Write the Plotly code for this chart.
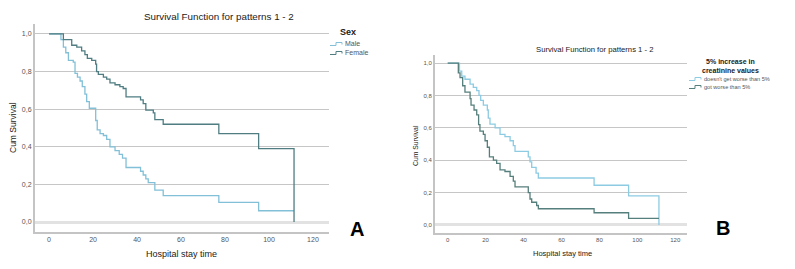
import plotly.graph_objects as go

# ---------------- Data ----------------
# Panel A: Sex
male_t = [0, 5.0, 5.4, 6.5, 7.6, 8.8, 11.0, 11.8, 12.9, 14.1, 15.1, 16.3, 17.1, 18.3, 21.2, 21.9,
          23.2, 24.7, 26.2, 27.7, 30.0, 31.9, 33.4, 35.0, 41.6, 42.8, 44.0, 45.1, 48.1, 51.9,
          77.2, 95.3, 111.4]
male_s = [1.0, 1.0, 0.97, 0.93, 0.90, 0.86, 0.85, 0.79, 0.77, 0.75, 0.72, 0.68, 0.64, 0.605, 0.54, 0.49,
          0.47, 0.46, 0.44, 0.40, 0.38, 0.36, 0.34, 0.29, 0.27, 0.25, 0.23, 0.21, 0.17, 0.14,
          0.105, 0.06, 0.06]

female_t = [0, 5.0, 6.5, 10.3, 12.6, 14.8, 16.3, 17.4, 19.4, 21.2, 21.6, 22.4, 24.7, 26.2, 27.7,
            30.0, 32.2, 33.7, 35.0, 41.6, 42.8, 44.0, 47.4, 48.1, 51.9, 77.2, 95.3, 111.4]
female_s = [1.0, 1.0, 0.97, 0.94, 0.93, 0.91, 0.89, 0.87, 0.86, 0.84, 0.80, 0.785, 0.77, 0.76, 0.74,
            0.73, 0.72, 0.71, 0.665, 0.65, 0.63, 0.595, 0.58, 0.545, 0.52, 0.47, 0.39, 0.0]

# Panel B: 5% increase in creatinine values
notworse_t = [0, 5.1, 6.2, 7.4, 9.1, 11.8, 13.5, 15.3, 16.5, 17.4, 18.8, 20.9, 21.4, 22.3, 25.0,
              27.6, 30.2, 32.9, 34.6, 35.5, 42.5, 43.4, 44.3, 46.6, 47.8, 52.2, 77.2, 95.4, 111.4]
notworse_s = [1.0, 1.0, 0.95, 0.92, 0.90, 0.87, 0.85, 0.83, 0.80, 0.77, 0.74, 0.71, 0.66, 0.623, 0.60,
              0.56, 0.545, 0.52, 0.49, 0.455, 0.42, 0.39, 0.355, 0.32, 0.29, 0.29, 0.245, 0.18, 0.0]

worse_t = [0, 5.1, 5.6, 6.5, 7.9, 9.1, 11.8, 12.3, 13.9, 15.3, 16.3, 17.0, 18.8, 19.7, 20.9, 22.0,
           24.1, 25.8, 27.6, 30.2, 32.9, 34.6, 35.5, 42.5, 43.4, 44.3, 46.9, 47.8, 52.2, 77.2,
           95.4, 111.4]
worse_s = [1.0, 1.0, 0.94, 0.91, 0.86, 0.82, 0.78, 0.74, 0.71, 0.68, 0.62, 0.58, 0.56, 0.52, 0.48, 0.42,
           0.40, 0.38, 0.34, 0.33, 0.30, 0.27, 0.235, 0.20, 0.16, 0.14, 0.12, 0.10, 0.10, 0.075,
           0.04, 0.04]

x_ticks = [0, 20, 40, 60, 80, 100, 120]
y_ticks = [0.0, 0.2, 0.4, 0.6, 0.8, 1.0]
y_tick_labels = ["0,0", "0,2", "0,4", "0,6", "0,8", "1,0"]

title_text = "Survival Function for patterns 1 - 2"
x_title = "Hospital stay time"
y_title = "Cum Survival"
legend_a_title = "Sex"
legend_a_names = ["Male", "Female"]
legend_b_title = "5% increase in<br>creatinine values"
legend_b_names = ["doesn't get worse than 5%", "got worse than 5%"]

# ---------------- Figure ----------------
W, H = 795, 269
COL_MALE = "#82c0d8"
COL_FEMALE = "#4f7d82"
COL_NOTWORSE = "#8ccbe2"
COL_WORSE = "#557f7c"
FONT = "Arial"


def px(x):
    return x / W


def py(y):
    return 1 - y / H


fig = go.Figure()
series = [
    (male_t, male_s, COL_MALE, legend_a_names[0], "x", "y"),
    (female_t, female_s, COL_FEMALE, legend_a_names[1], "x", "y"),
    (notworse_t, notworse_s, COL_NOTWORSE, legend_b_names[0], "x2", "y2"),
    (worse_t, worse_s, COL_WORSE, legend_b_names[1], "x2", "y2"),
]
for t, s, c, name, xa, ya in series:
    fig.add_trace(go.Scatter(x=t, y=s, mode="lines", line=dict(shape="hv", color=c, width=1.3),
                             name=name, xaxis=xa, yaxis=ya, showlegend=False, hoverinfo="x+y+name"))

axis_common = dict(showgrid=False, zeroline=False, showline=True, linecolor="#c4c4c4", linewidth=2,
                   ticks="", fixedrange=True)
yaxis_common = dict(showgrid=True, gridcolor="#c6c6c6", gridwidth=1, zeroline=True, zerolinecolor="#e2e2e2",
                    zerolinewidth=3, showline=True, linecolor="#c4c4c4", linewidth=2, ticks="",
                    fixedrange=True, tickvals=y_ticks, ticktext=y_tick_labels)

fig.update_layout(
    width=W, height=H, margin=dict(l=0, r=0, t=0, b=0),
    paper_bgcolor="white", plot_bgcolor="white", showlegend=False,
    xaxis=dict(domain=[px(35), px(329)], range=[-6.4, 127.3], tickvals=x_ticks, anchor="y",
               tickfont=dict(family=FONT, size=7, color="#555"), **axis_common),
    yaxis=dict(domain=[py(232), py(24)], range=[-0.053, 1.053], anchor="x",
               tickfont=dict(family=FONT, size=7, color="#555"), **yaxis_common),
    xaxis2=dict(domain=[px(435), px(687)], range=[-6.7, 126.2], tickvals=x_ticks, anchor="y2",
                tickfont=dict(family=FONT, size=6, color="#555"), **axis_common),
    yaxis2=dict(domain=[py(233), py(55)], range=[-0.05, 1.05], anchor="x2",
                tickfont=dict(family=FONT, size=6, color="#555"), **yaxis_common),
)

annotations = [
    dict(text=title_text, x=px(219), y=py(17), font=dict(family=FONT, size=9.8, color="#1a1a1a")),
    dict(text=title_text, x=px(595), y=py(49), font=dict(family=FONT, size=7.7, color="#1a1a1a")),
    dict(text=x_title, x=px(181), y=py(254), font=dict(family=FONT, size=9, color="#1a1a1a")),
    dict(text=x_title, x=px(562), y=py(253), font=dict(family=FONT, size=7.5, color="#1a1a1a")),
    dict(text=y_title, x=px(13), y=py(128), textangle=-90, font=dict(family=FONT, size=8.5, color="#1a1a1a")),
    dict(text=y_title, x=px(415), y=py(146), textangle=-90, font=dict(family=FONT, size=6.8, color="#1a1a1a")),
    dict(text="<b>A</b>", x=px(357), y=py(229), font=dict(family=FONT, size=20, color="#000")),
    dict(text="<b>B</b>", x=px(723), y=py(228), font=dict(family=FONT, size=20, color="#000")),
    # legend titles
    dict(text="<b>" + legend_a_title + "</b>", x=px(348), y=py(32), font=dict(family=FONT, size=9, color="#222")),
    dict(text="<b>" + legend_b_title + "</b>", x=px(730), y=py(66), font=dict(family=FONT, size=7, color="#222")),
]
for a in annotations:
    a.update(xanchor="center", yanchor="middle")

# legend entries (key symbol + label), SPSS-style step keys
legend_entries = [
    (legend_a_names[0], COL_MALE, 330, 44, 7),
    (legend_a_names[1], COL_FEMALE, 330, 53, 7),
    (legend_b_names[0], COL_NOTWORSE, 689, 79, 5.6),
    (legend_b_names[1], COL_WORSE, 689, 87, 5.6),
]
shapes = []
for name, col, x0, yc, fs in legend_entries:
    path = "M {:.5f},{:.5f} H {:.5f} V {:.5f} H {:.5f} V {:.5f}".format(
        px(x0), py(yc + 1.5), px(x0 + 6), py(yc - 1.5), px(x0 + 12), py(yc + 0.5))
    shapes.append(dict(type="path", path=path, xref="paper", yref="paper",
                       line=dict(color=col, width=1)))
    annotations.append(dict(text=name, x=px(x0 + 13), y=py(yc), xanchor="left", yanchor="middle",
                            font=dict(family=FONT, size=fs, color="#555")))

for a in annotations:
    a.update(xref="paper", yref="paper", showarrow=False)
fig.update_layout(annotations=annotations, shapes=shapes)

fig.write_html("out.html", config={"displayModeBar": False, "staticPlot": True},
               post_script="document.body.style.margin='0px';document.body.style.overflow='hidden';")
